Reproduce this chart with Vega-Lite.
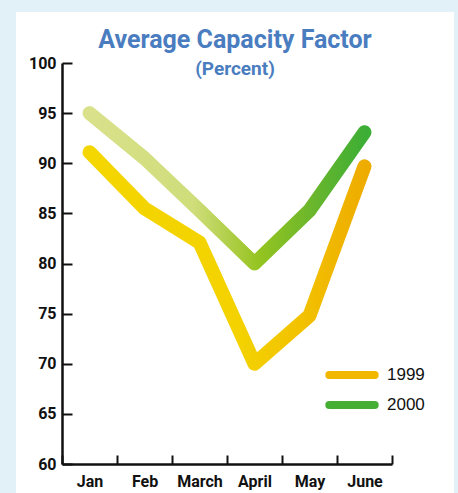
{
  "$schema": "https://vega.github.io/schema/vega-lite/v6.json",
  "autosize": {"type": "none"},
  "padding": {"left": 16, "top": 12, "right": 4, "bottom": 0},
  "width": 438,
  "height": 481,
  "background": "#E2F0F8",
  "config": {
    "view": {"fill": "white", "stroke": null},
    "axis": {
      "grid": false,
      "domainColor": "#111111",
      "domainWidth": 2.5,
      "tickColor": "#111111",
      "tickWidth": 2,
      "labelFont": "Roboto, sans-serif",
      "labelFontWeight": "bold",
      "labelFontSize": 16,
      "labelColor": "#111111",
      "title": null
    }
  },
  "title": {
    "text": "Average Capacity Factor",
    "subtitle": "(Percent)",
    "anchor": "middle",
    "frame": "group",
    "offset": -67,
    "font": "Roboto, sans-serif",
    "fontSize": 25,
    "fontWeight": "bold",
    "color": "#4A7DC0",
    "subtitleFont": "Roboto, sans-serif",
    "subtitleFontSize": 19,
    "subtitleFontWeight": "bold",
    "subtitleColor": "#4A7DC0",
    "subtitlePadding": 7
  },
  "data": {
    "values": [
      {"month": "Jan", "year": "1999", "value": 91.1},
      {"month": "Feb", "year": "1999", "value": 85.5},
      {"month": "March", "year": "1999", "value": 82.1},
      {"month": "April", "year": "1999", "value": 70.0},
      {"month": "May", "year": "1999", "value": 74.8},
      {"month": "June", "year": "1999", "value": 89.7},
      {"month": "Jan", "year": "2000", "value": 95.0},
      {"month": "Feb", "year": "2000", "value": 90.5},
      {"month": "March", "year": "2000", "value": 85.3},
      {"month": "April", "year": "2000", "value": 80.0},
      {"month": "May", "year": "2000", "value": 85.3},
      {"month": "June", "year": "2000", "value": 93.1}
    ]
  },
  "encoding": {
    "x": {
      "field": "month",
      "type": "nominal",
      "scale": {
        "domain": ["Jan", "Feb", "March", "April", "May", "June"],
        "range": [46, 376],
        "paddingInner": 0,
        "paddingOuter": 0
      },
      "axis": {
        "orient": "bottom",
        "offset": -29,
        "tickSize": -9,
        "tickBand": "extent",
        "labelPadding": 18,
        "labelAngle": 0
      }
    },
    "y": {
      "field": "value",
      "type": "quantitative",
      "scale": {"domain": [60, 100], "range": [452, 51], "zero": false, "nice": false},
      "axis": {
        "orient": "left",
        "offset": -46,
        "tickSize": -10,
        "labelPadding": 16,
        "values": [60, 65, 70, 75, 80, 85, 90, 95, 100]
      }
    }
  },
  "layer": [
    {
      "mark": {"type": "line", "strokeWidth": 9, "strokeCap": "round", "strokeJoin": "round"},
      "encoding": {
        "color": {
          "field": "year",
          "type": "nominal",
          "scale": {"domain": ["1999", "2000"], "range": ["#F2B800", "#45AE33"]},
          "legend": {
            "orient": "none",
            "legendX": 325,
            "legendY": 352,
            "title": null,
            "symbolType": "M-2.62,-0.231H2.62A0.231,0.231 0 0 1 2.62,0.231H-2.62A0.231,0.231 0 0 1 -2.62,-0.231Z",
            "symbolSize": 300,
            "symbolStrokeWidth": 4,
            "labelFont": "Liberation Sans, Arial, sans-serif",
            "labelFontSize": 17,
            "labelColor": "#111111",
            "labelOffset": 24,
            "rowPadding": 8
          }
        }
      }
    },
    {
      "transform": [{"filter": "datum.year == '1999'"}],
      "mark": {
        "type": "line",
        "strokeWidth": 14,
        "strokeCap": "round",
        "strokeJoin": "round",
        "stroke": {
          "gradient": "linear",
          "x1": 0, "y1": 0, "x2": 1, "y2": 0,
          "stops": [
            {"offset": 0, "color": "#F4D600"},
            {"offset": 0.55, "color": "#F3D200"},
            {"offset": 0.8, "color": "#F2BF00"},
            {"offset": 1, "color": "#EEAC00"}
          ]
        }
      }
    },
    {
      "transform": [{"filter": "datum.year == '2000'"}],
      "mark": {
        "type": "line",
        "strokeWidth": 14,
        "strokeCap": "round",
        "strokeJoin": "round",
        "stroke": {
          "gradient": "linear",
          "x1": 0, "y1": 0, "x2": 1, "y2": 0,
          "stops": [
            {"offset": 0, "color": "#D9E18B"},
            {"offset": 0.38, "color": "#CFDD7A"},
            {"offset": 0.55, "color": "#A6CA38"},
            {"offset": 0.62, "color": "#94C420"},
            {"offset": 0.8, "color": "#6DB72C"},
            {"offset": 1, "color": "#3DAE35"}
          ]
        }
      }
    }
  ]
}
